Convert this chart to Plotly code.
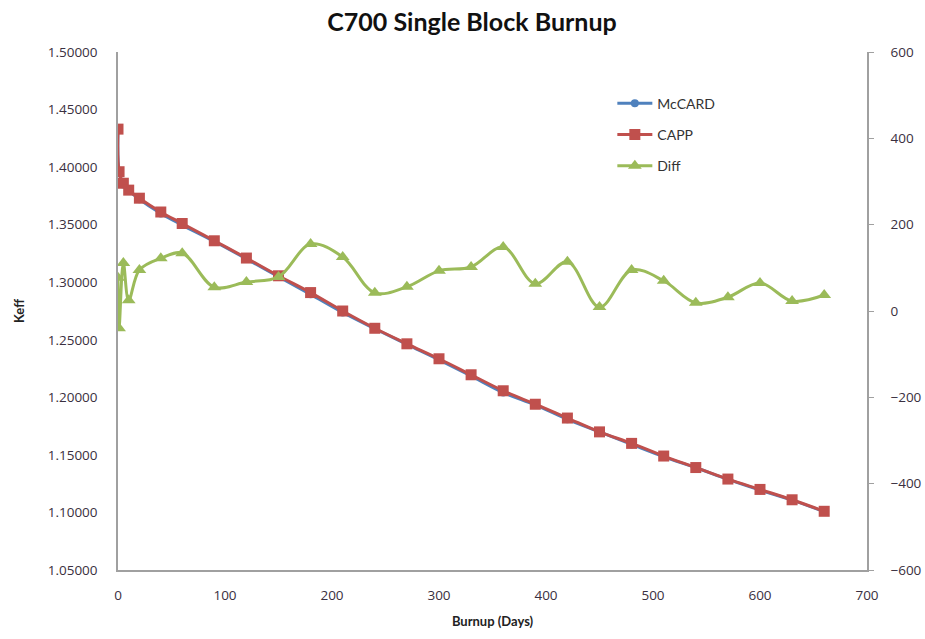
import plotly.graph_objects as go

days = [0, 1, 5, 10, 20, 40, 60, 90, 120, 150, 180, 210, 240, 270, 300, 330, 360,
        390, 420, 450, 480, 510, 540, 570, 600, 630, 660]
capp = [1.4330, 1.3960, 1.3860, 1.3800, 1.3730, 1.3610, 1.3510, 1.3360, 1.3210,
        1.3056, 1.2910, 1.2750, 1.2600, 1.2465, 1.2335, 1.2196, 1.2057, 1.1940,
        1.1820, 1.1700, 1.1600, 1.1490, 1.1390, 1.1290, 1.1200, 1.1110, 1.1010]
diff = [77, -40, 111, 25, 95, 122, 134, 55, 67, 79, 155, 125, 42, 56, 93, 102, 148,
        63, 114, 9, 95, 70, 19, 32, 65, 23, 37]
mccard = [c - d * 1e-5 for c, d in zip(capp, diff)]

blue = "#4F81BD"
red = "#C0504D"
green = "#9BBB59"
font = "Lato, 'Open Sans', sans-serif"
tickfont = dict(family="'Open Sans', sans-serif", size=13.5, color="#3a3040")

fig = go.Figure()
fig.add_trace(go.Scatter(x=days, y=mccard, name="McCARD", mode="lines+markers", legendgroup="a",
                         line=dict(color=blue, width=3, shape="spline"),
                         marker=dict(symbol="circle", size=8, color=blue)))
fig.add_trace(go.Scatter(x=days, y=capp, name="CAPP", mode="lines+markers", legendgroup="b",
                         line=dict(color=red, width=3, shape="spline"),
                         marker=dict(symbol="square", size=11, color=red)))
fig.add_trace(go.Scatter(x=days, y=diff, name="Diff", mode="lines+markers", yaxis="y2",
                         legendgroup="c",
                         line=dict(color=green, width=3, shape="spline"),
                         marker=dict(symbol="triangle-up", size=12, color=green)))

axis_common = dict(showgrid=False, zeroline=False, showline=True, linecolor="#A0A0A0",
                   linewidth=1.5, tickfont=tickfont, automargin=False)

fig.update_layout(
    width=925, height=639,
    paper_bgcolor="white", plot_bgcolor="white",
    margin=dict(l=118, r=58, t=52, b=69),
    title=dict(text="<b>C700 Single Block Burnup</b>", x=472 / 925, xanchor="center",
               y=1 - 22 / 639, yanchor="middle", font=dict(family=font, size=25, color="#111111")),
    xaxis=dict(range=[0, 700], dtick=100, tickformat="d", ticks="", ticklabelstandoff=12,
               title=dict(text="<b>Burnup (Days)</b>", font=dict(family=font, size=13, color="#222222"),
                          standoff=14),
               **axis_common),
    yaxis=dict(range=[1.05, 1.5], dtick=0.05, tickformat=".5f", ticks="", ticklabelstandoff=16,
               title=dict(text="<b>Keff</b>", font=dict(family=font, size=13, color="#222222"),
                          standoff=20),
               **axis_common),
    yaxis2=dict(range=[-600, 600], dtick=200, overlaying="y", side="right", anchor="x",
                ticks="outside", ticklen=5, tickcolor="#A0A0A0", ticklabelstandoff=14,
                **axis_common),
    legend=dict(x=0.66, y=0.931, xanchor="left", yanchor="top", bgcolor="rgba(0,0,0,0)",
                font=dict(family=font, size=14, color="#333333"), tracegroupgap=10,
                itemwidth=35),
    showlegend=True,
)

fig.write_html("out.html", post_script="document.body.style.margin='0';",
               config={"displayModeBar": False})
